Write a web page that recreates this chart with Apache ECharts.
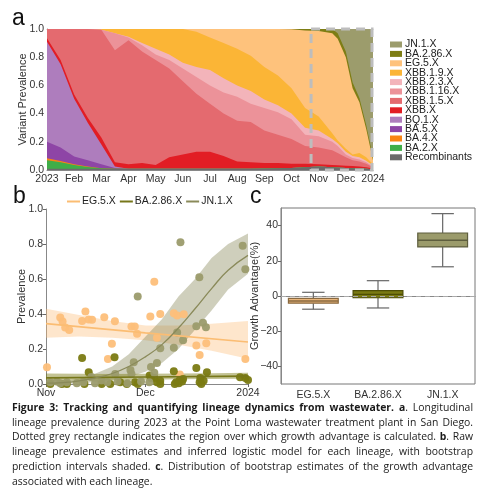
<!DOCTYPE html>
<html><head><meta charset="utf-8">
<script src="https://cdn.jsdelivr.net/npm/echarts@6/dist/echarts.min.js"></script>
<style>html,body{margin:0;padding:0;background:#fff}#c{width:500px;height:496px}</style>
</head><body><div id="c"></div>
<script>
// ---------- Panel a data (prevalence per lineage, months since 2023-01-01) ----------
const monthTicks = ['2023','Feb','Mar','Apr','May','Jun','Jul','Aug','Sep','Oct','Nov','Dec','2024'];
const xMonths = [0,0.5,1,1.5,2,2.5,3,3.5,4,4.5,5,5.5,6,6.5,7,7.5,8,8.5,9,9.5,10,10.5,10.7,11,11.25,11.5,11.75,12];
const recombinants = [.008,.008,.008,.008,.008,.008,.008,.008,.008,.008,.008,.008,.008,.008,.008,.008,.01,.012,.015,.02,.025,.02,.018,.015,.012,.01,.008,.005];
const ba2  = [.062,.047,.027,.014,.004,0,0,0,0,0,0,0,0,0,0,0,0,0,0,0,0,0,0,0,0,0,0,0];
const ba4  = [.013,.009,.005,.003,.001,0,0,0,0,0,0,0,0,0,0,0,0,0,0,0,0,0,0,0,0,0,0,0];
const ba5  = [.117,.096,.055,.045,.027,.007,0,0,0,0,0,0,0,0,0,0,0,0,0,0,0,0,0,0,0,0,0,0];
const bq1  = [.71,.59,.41,.265,.14,.01,0,0,0,0,0,0,0,0,0,0,0,0,0,0,0,0,0,0,0,0,0,0];
const xbb  = [.025,.03,.03,.035,.05,.03,.032,.042,.027,.082,.102,.122,.122,.092,.052,.047,.04,.038,.03,.025,.015,.015,.015,.015,.016,.015,.012,.005];
const xbb15 = [.065,.22,.465,.63,.765,.795,.88,.79,.745,.63,.52,.41,.34,.30,.29,.285,.23,.20,.175,.125,.12,.105,.087,.06,.042,.035,.025,.01];
const xbb116 = [0,0,0,0,0,.12,.02,.045,.04,.06,.09,.12,.13,.15,.17,.13,.16,.16,.14,.08,.08,.06,.05,.02,.015,.015,.01,.005];
const xbb23 = [0,0,0,0,0,0,.005,.015,.04,.04,.04,.07,.11,.10,.08,.09,.06,.05,.04,.05,.04,.02,.02,.02,.015,.015,.01,.005];
const xbb19 = [0,0,0,0,.005,.03,.055,.10,.14,.18,.24,.25,.23,.25,.26,.25,.23,.21,.18,.14,.10,.04,.02,.02,.01,.03,.025,.01];
const eg5  = [0,0,0,0,0,0,0,0,0,0,0,.02,.06,.10,.14,.19,.27,.33,.418,.55,.605,.71,.72,.65,.47,.36,.20,.03];
const ba286 = [0,0,0,0,0,0,0,0,0,0,0,0,0,0,0,0,0,0,.002,.01,.015,.03,.04,.04,.04,.03,.03,.02];
const jn1  = [0,0,0,0,0,0,0,0,0,0,0,0,0,0,0,0,0,0,0,0,0,0,.03,.16,.38,.49,.68,.91];
const growthWindow = [9.72, 12];

const lineageNames = ['Recombinants','BA.2.X','BA.4.X','BA.5.X','BQ.1.X','XBB.X','XBB.1.5.X','XBB.1.16.X','XBB.2.3.X','XBB.1.9.X','EG.5.X','BA.2.86.X','JN.1.X'];
const lineageValues = [recombinants,ba2,ba4,ba5,bq1,xbb,xbb15,xbb116,xbb23,xbb19,eg5,ba286,jn1];
const lineageColors = ['#6b6b6b','#3fae48','#f98414','#8e45a6','#ae7dbd','#e21d24','#e46a6f','#ec9299','#f3b4ba','#fbb536','#fec27c','#7d7d14','#9c9c6c'];

// ---------- Panel b data (days since 2023-11-01) ----------
const bTickDays = [0, 30, 61];
const bTickLabels = ['Nov', 'Dec', '2024'];
const eg5Points = [[0.3,0.096],[4.3,0.38],[5.0,0.357],[5.8,0.323],[7.0,0.308],[10.9,0.36],[11.9,0.415],[12.9,0.369],[13.9,0.367],[17.6,0.382],[18.7,0.143],[19.9,0.23],[20.8,0.358],[25.8,0.329],[26.8,0.329],[27.5,0.287],[31.5,0.386],[32.7,0.585],[33.5,0.265],[34.5,0.40],[38.6,0.405],[39.6,0.392],[41.6,0.398],[40.4,0.054],[45.4,0.22],[46.4,0.166],[48.4,0.233],[60.2,0.143]];
const ba286Points = [[10.9,0.149],[12.9,0.067],[20.7,0.153],[31.3,0.048],[31.7,0.034],[32.7,0.034],[33.5,0.01],[34.5,0.019],[38.6,0.073],[39.3,0.01],[40.4,0.023],[41.4,0.029],[45.4,0.092],[46.6,0.034],[47.6,0.019],[48.6,0.067],[58.6,0.038],[60.2,0.034],[61,0.023],[1.3,0.0],[4.8,0.0],[6.3,0.0],[11.6,0.0],[16.8,0.0],[19.4,0.0],[22.4,0.01],[24.4,0.0],[26.9,0.01],[27.7,0.0],[34.5,0.0],[38.9,0.0],[40.1,0.005],[41.1,0.015],[46.4,0.01],[46.9,0.0]];
const jn1Points = [[40.6,0.81],[27.7,0.50],[46.3,0.61],[59.4,0.79],[60.2,0.656],[47.4,0.35],[48.3,0.325],[45.4,0.33],[39.6,0.295],[41.4,0.25],[38.6,0.207],[34.5,0.205],[33.5,0.12],[31.7,0.097],[32.7,0.065],[26.5,0.124],[25.5,0.08],[25.8,0.057],[20.9,0.057],[13.7,0.04],[16.7,0.02],[1.3,0.01],[3.3,0.015],[4.3,0.005],[6.3,0.01],[9.3,0.005],[11.3,0.01],[14.8,0.005],[18.5,0.01],[21.6,0.015],[24.6,0.005],[28.7,0.015],[31.2,0.01]];
const fitDays = [0,5,10,15,20,25,30,35,40,45,50,55,61];
const eg5FitDays = [0,30,61];
const eg5Fit = [0.345,0.292,0.24];
const eg5BandDays = [0,10,20,30,40,50,61];
const eg5Upper = [0.43,0.395,0.36,0.335,0.335,0.345,0.36];
const eg5Lower = [0.265,0.272,0.265,0.25,0.225,0.19,0.145];
const ba286Fit = [0.035,0.04,0.045];
const ba286Upper = [0.06,0.058,0.057,0.058,0.06,0.062,0.065];
const ba286Lower = [0.018,0.02,0.022,0.025,0.027,0.028,0.03];
const jn1Fit = [0.005,0.008,0.018,0.035,0.06,0.10,0.155,0.225,0.32,0.43,0.545,0.65,0.735];
const jn1Upper = [0.01,0.015,0.03,0.06,0.10,0.17,0.27,0.37,0.50,0.60,0.72,0.80,0.86];
const jn1Lower = [0,0,0.005,0.012,0.025,0.04,0.07,0.12,0.20,0.31,0.42,0.54,0.63];

// ---------- Panel c data (growth advantage %, bootstrap distribution) ----------
const cCategories = ['EG.5.X','BA.2.86.X','JN.1.X'];
const cStats = [ // [lowWhisker, q1, median, q3, highWhisker]
  [-7.5,-4.1,-2.8,-1.3,2.1],
  [-6.8,-1.0,0.9,3.0,8.7],
  [16.6,27.9,31.7,35.8,46.8]
];
const cFill = ['#ebb67c','#7a7a12','#9b9b6b'];
const cEdge = ['#8a6a40','#4d4d05','#5e5e3e'];
const cTicks = [-40,-20,0,20,40];

// ---------- caption ----------
const captionLines = [
 '**Figure 3: Tracking and quantifying lineage dynamics from wastewater. a**. Longitudinal',
 'lineage prevalence during 2023 at the Point Loma wastewater treatment plant in San Diego.',
 'Dotted grey rectangle indicates the region over which growth advantage is calculated. **b**. Raw',
 'lineage prevalence estimates and inferred logistic model for each lineage, with bootstrap',
 'prediction intervals shaded. **c**. Distribution of bootstrap estimates of the growth advantage',
 'associated with each lineage.'
];

const SANS = '"Liberation Sans", Arial, sans-serif';
const chart = echarts.init(document.getElementById('c'), null, {renderer:'canvas'});
const pairs = (xs, ys) => xs.map((x,i)=>[x, ys[i]]);
const series = [];

// panel a: cumulative tops, painted from the top layer down (each filled from 0)
const cumTops = [];
lineageValues.forEach((arr,k)=>{
  cumTops.push(arr.map((v,i)=> (k ? cumTops[k-1][i] : 0) + v));
});
for (let k = lineageNames.length-1; k >= 0; k--) {
  const top = cumTops[k], col = lineageColors[k];
  series.push({
    name: lineageNames[k], type:'custom', xAxisIndex:0, yAxisIndex:0, silent:true, z:2,
    itemStyle:{color:col},
    data: xMonths.map((x,i)=>[x, top[i]]),
    encode:{x:0, y:1},
    renderItem:(p, api)=>{
      if (p.dataIndex !== 0) return null;
      const pts = xMonths.map((x,i)=>api.coord([x, Math.min(1, top[i])]));
      pts.push(api.coord([xMonths[xMonths.length-1], 0]));
      pts.push(api.coord([xMonths[0], 0]));
      return {type:'polygon', shape:{points:pts}, style:{fill:col}};
    }
  });
}
// growth window dashed rectangle
series.push({
  type:'custom', xAxisIndex:0, yAxisIndex:0, z:10, silent:true,
  data:[[growthWindow[0], growthWindow[1]]],
  renderItem:(p, api)=>{
    const a = api.coord([api.value(0), 1]);
    const b = api.coord([api.value(1), 0]);
    return {type:'rect', shape:{x:a[0], y:a[1], width:b[0]-a[0]-1, height:b[1]-a[1]},
      style:{fill:'none', stroke:'#bdbdbd', lineWidth:3, lineDash:[9,6]}};
  }
});

// panel b bands (polygon between lower and upper)
function band(days, lower, upper, color){
  series.push({type:'custom', xAxisIndex:1, yAxisIndex:1, z:1, silent:true,
    data: days.map((d,i)=>[d, lower[i], upper[i]]), encode:{x:0, y:[1,2]},
    renderItem:(p, api)=>{
      if (p.dataIndex !== 0) return null;
      const pts = days.map((d,i)=>api.coord([d, upper[i]]));
      for (let i = days.length-1; i >= 0; i--) pts.push(api.coord([days[i], lower[i]]));
      return {type:'polygon', shape:{points:pts}, style:{fill:color}};
    }});
}
band(eg5BandDays, eg5Lower, eg5Upper, 'rgba(253,190,120,0.38)');
band(fitDays, jn1Lower, jn1Upper, 'rgba(130,130,80,0.38)');
band(eg5BandDays, ba286Lower, ba286Upper, 'rgba(122,122,18,0.45)');
// panel b points
[[eg5Points,'#fdbf7a'],[ba286Points,'#7a7a12'],[jn1Points,'#9b9b6b']].forEach(([pts,c])=>{
  series.push({type:'scatter', xAxisIndex:1, yAxisIndex:1, symbolSize:8, itemStyle:{color:c, opacity:0.95}, data:pts, z:2, silent:true});
});
// panel b fitted lines
series.push({name:'EG.5.X', type:'line', xAxisIndex:1, yAxisIndex:1, symbol:'none', lineStyle:{color:'#fbbd73', width:1.6}, itemStyle:{color:'#fbbd73'}, data:pairs(eg5FitDays, eg5Fit), z:3, silent:true});
series.push({name:'BA.2.86.X', type:'line', xAxisIndex:1, yAxisIndex:1, symbol:'none', lineStyle:{color:'#77771a', width:1.6}, itemStyle:{color:'#77771a'}, data:pairs(eg5FitDays, ba286Fit), z:3, silent:true});
series.push({name:'JN.1.X', type:'line', xAxisIndex:1, yAxisIndex:1, symbol:'none', smooth:true, lineStyle:{color:'#8a8a5a', width:1.3}, itemStyle:{color:'#8a8a5a'}, data:pairs(fitDays, jn1Fit), z:3, silent:true});

// panel c boxes
series.push({
  type:'custom', xAxisIndex:2, yAxisIndex:2, z:3, silent:true,
  data: cStats.map((s,i)=>[i].concat(s)),
  encode:{x:0, y:[1,2,3,4,5]},
  renderItem:(p, api)=>{
    const i = api.value(0);
    const lo = api.coord([i, api.value(1)]), q1 = api.coord([i, api.value(2)]), md = api.coord([i, api.value(3)]),
          q3 = api.coord([i, api.value(4)]), hi = api.coord([i, api.value(5)]);
    const bw = api.size([1,0])[0]*0.77, cw = bw*0.45, x = lo[0];
    const ls = {stroke:'#666', lineWidth:1.2};
    return {type:'group', children:[
      {type:'line', shape:{x1:x,y1:hi[1],x2:x,y2:q3[1]}, style:ls},
      {type:'line', shape:{x1:x,y1:q1[1],x2:x,y2:lo[1]}, style:ls},
      {type:'line', shape:{x1:x-cw/2,y1:hi[1],x2:x+cw/2,y2:hi[1]}, style:ls},
      {type:'line', shape:{x1:x-cw/2,y1:lo[1],x2:x+cw/2,y2:lo[1]}, style:ls},
      {type:'rect', shape:{x:x-bw/2,y:q3[1],width:bw,height:q1[1]-q3[1]}, style:{fill:cFill[i], stroke:cEdge[i], lineWidth:1.2}},
      {type:'line', shape:{x1:x-bw/2,y1:md[1],x2:x+bw/2,y2:md[1]}, style:{stroke:cEdge[i], lineWidth:1.4}}
    ]};
  },
  markLine:{silent:true, symbol:'none', label:{show:false}, lineStyle:{color:'#aaa', type:[5,4], width:1.2}, data:[{yAxis:0}]}
});

// caption graphics (justified)
const cvs = document.createElement('canvas').getContext('2d');
const CAP_FONT = '"Open Sans", sans-serif', CAP_SIZE = 10.4;
function capFont(b){ return (b?'bold ':'') + CAP_SIZE + 'px ' + CAP_FONT; }
function parseLine(s){
  const words=[]; let cur=[], seg='', bold=false;
  for (let i=0;i<s.length;i++){
    if (s.substr(i,2)==='**'){ if(seg){cur.push({t:seg,b:bold});seg='';} bold=!bold; i++; continue; }
    if (s[i]===' '){ if(seg){cur.push({t:seg,b:bold});seg='';} if(cur.length){words.push(cur);cur=[];} continue; }
    seg+=s[i];
  }
  if(seg) cur.push({t:seg,b:bold}); if(cur.length) words.push(cur);
  return words;
}
const graphics = [];
const X0 = 12, WCAP = 461;
captionLines.forEach((line, li)=>{
  const words = parseLine(line);
  const widths = words.map(w=>w.reduce((s,g)=>{cvs.font=capFont(g.b); return s+cvs.measureText(g.t).width;},0));
  const total = widths.reduce((a,b)=>a+b,0);
  cvs.font = capFont(false);
  const space = cvs.measureText(' ').width;
  const last = li===captionLines.length-1;
  const gap = last ? space : (WCAP-total)/(words.length-1);
  let x = X0; const y = 408 + li*14.75;
  words.forEach((w,wi)=>{
    let xx = x;
    w.forEach(g=>{
      cvs.font = capFont(g.b);
      graphics.push({type:'text', x:xx, y:y, silent:true, style:{text:g.t, font:capFont(g.b), fill:'#1a1a1a', textAlign:'left', textVerticalAlign:'middle', align:'left', verticalAlign:'middle'}});
      xx += cvs.measureText(g.t).width;
    });
    x += widths[wi] + gap;
  });
});
// panel letters
[['a',12,19],['b',13,197],['c',250,197]].forEach(([t,x,y])=>{
  graphics.push({type:'text', x, y, silent:true, style:{text:t, font:'23px '+SANS, fill:'#111', textAlign:'left', textVerticalAlign:'middle', align:'left', verticalAlign:'middle'}});
});

const tickLbl = {color:'#333', fontSize:10.5, fontFamily:SANS};
const axisLine = {show:true, lineStyle:{color:'#888', width:1}};
const bMap = {}; bTickDays.forEach((d,i)=>bMap[d]=bTickLabels[i]);
const nameStyle = {fontSize:11, color:'#333', fontFamily:SANS};

chart.setOption({
  animation:false,
  backgroundColor:'#fff',
  textStyle:{fontFamily:SANS},
  grid:[
    {left:47, top:29, width:326, height:141},
    {left:46, top:209, width:202, height:175},
    {left:281, top:208, width:194, height:176, show:true, borderColor:'#777', borderWidth:1, backgroundColor:'transparent'}
  ],
  legend:[
    {orient:'vertical', left:385, top:34, icon:'rect', itemWidth:12, itemHeight:6, itemGap:-1.6,
     textStyle:{fontSize:10.5, color:'#222', fontFamily:SANS, padding:[0,0,0,-2]},
     data: lineageNames.slice().reverse().map(n=>({name:n, itemStyle:{color:lineageColors[lineageNames.indexOf(n)]}})),
     selectedMode:false},
    {orient:'horizontal', left:62, top:191, icon:'rect', itemWidth:13, itemHeight:2, itemGap:4,
     textStyle:{fontSize:10.5, color:'#222', fontFamily:SANS, padding:[0,0,0,-3]},
     data:[{name:'EG.5.X', itemStyle:{color:'#fbbd73'}},{name:'BA.2.86.X', itemStyle:{color:'#77771a'}},{name:'JN.1.X', itemStyle:{color:'#8a8a5a'}}],
     selectedMode:false}
  ],
  xAxis:[
    {type:'value', gridIndex:0, min:0, max:12, interval:1, axisLine:axisLine, axisTick:{show:false}, splitLine:{show:false},
     axisLabel:Object.assign({margin:4, formatter:v=>monthTicks[Math.round(v)]}, tickLbl)},
    {type:'value', gridIndex:1, min:0, max:61, axisLine:axisLine, splitLine:{show:false},
     axisTick:{show:true, length:3, customValues:bTickDays, lineStyle:{color:'#666'}},
     axisLabel:Object.assign({margin:4, customValues:bTickDays, formatter:v=>bMap[v]!==undefined?bMap[v]:''}, tickLbl)},
    {type:'category', gridIndex:2, data:cCategories, axisLine:axisLine, axisTick:{show:false}, splitLine:{show:false},
     axisLabel:Object.assign({margin:6}, tickLbl)},
    {type:'value', gridIndex:0, position:'top', min:0, max:12, axisLine:{show:true, lineStyle:{color:'#bbb'}}, axisTick:{show:false}, axisLabel:{show:false}, splitLine:{show:false}}
  ],
  yAxis:[
    {type:'value', gridIndex:0, min:0, max:1, interval:0.2, axisLine:axisLine, axisTick:{show:false}, splitLine:{show:false},
     axisLabel:Object.assign({margin:3, formatter:v=>v.toFixed(1)}, tickLbl),
     name:'Variant Prevalence', nameLocation:'middle', nameGap:18.5, nameMoveOverlap:false, nameTextStyle:nameStyle},
    {type:'value', gridIndex:1, min:0, max:1, interval:0.2, axisLine:axisLine, axisTick:{show:true, length:3, lineStyle:{color:'#666'}}, splitLine:{show:false},
     axisLabel:Object.assign({margin:3, formatter:v=>v.toFixed(1)}, tickLbl),
     name:'Prevalence', nameLocation:'middle', nameGap:19, nameMoveOverlap:false, nameTextStyle:nameStyle},
    {type:'value', gridIndex:2, min:-50, max:50, axisLine:axisLine, splitLine:{show:false},
     axisTick:{show:true, length:3, customValues:cTicks, lineStyle:{color:'#666'}},
     axisLabel:Object.assign({margin:3, customValues:cTicks, formatter:v=>v<0?'\u2212'+Math.abs(v):String(v)}, tickLbl),
     name:'Growth Advantage(%)', nameLocation:'middle', nameGap:21, nameMoveOverlap:false, nameTextStyle:nameStyle}
  ],
  series: series,
  graphic: graphics
});
</script></body></html>
